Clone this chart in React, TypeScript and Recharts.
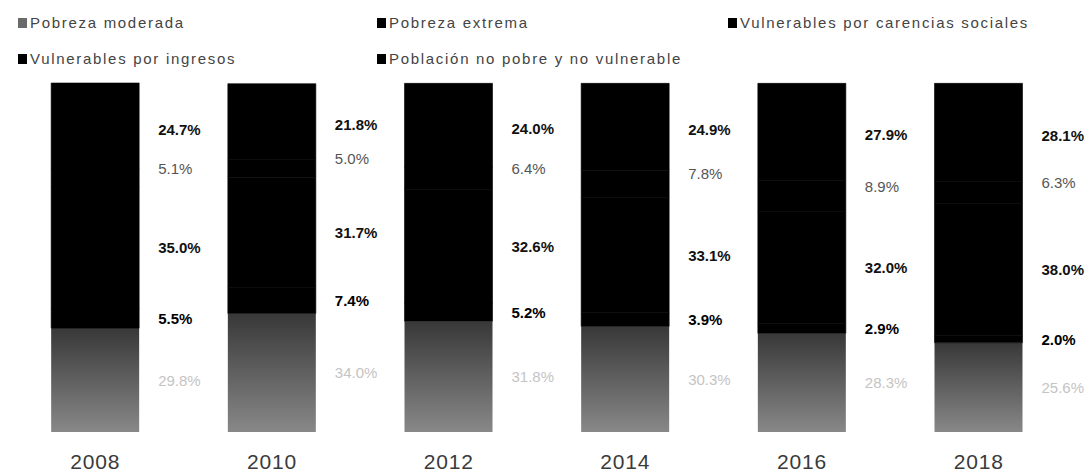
import React from "react";
import { BarChart, Bar, XAxis, YAxis, Legend, LabelList } from "recharts";

const years = ["2008", "2010", "2012", "2014", "2016", "2018"];
const pobrezaModerada = [29.8, 34.0, 31.8, 30.3, 28.3, 25.6];
const pobrezaExtrema = [5.5, 7.4, 5.2, 3.9, 2.9, 2.0];
const vulnerablesCarencias = [35.0, 31.7, 32.6, 33.1, 32.0, 38.0];
const vulnerablesIngresos = [5.1, 5.0, 6.4, 7.8, 8.9, 6.3];
const noPobre = [24.7, 21.8, 24.0, 24.9, 27.9, 28.1];

const data = years.map((y, i) => ({
  year: y,
  moderada: pobrezaModerada[i],
  extrema: pobrezaExtrema[i],
  carencias: vulnerablesCarencias[i],
  ingresos: vulnerablesIngresos[i],
  nopobre: noPobre[i],
}));

const FONT = "'Liberation Sans', Arial, sans-serif";

const legendItems = [
  { name: "Pobreza moderada", color: "#6a6a6a", x: 11, y: 0 },
  { name: "Pobreza extrema", color: "#000", x: 370, y: 0 },
  { name: "Vulnerables por carencias sociales", color: "#000", x: 721, y: 0 },
  { name: "Vulnerables por ingresos", color: "#000", x: 11, y: 36 },
  { name: "Población no pobre y no vulnerable", color: "#000", x: 370, y: 36 },
];

const renderLegend = () => (
  <div style={{ position: "relative", width: 1091, height: 70, fontFamily: FONT }}>
    {legendItems.map((it) => (
      <div
        key={it.name}
        style={{
          position: "absolute",
          left: it.x,
          top: it.y,
          display: "flex",
          alignItems: "center",
          fontSize: 15,
          letterSpacing: 1.7,
          color: "#444",
          whiteSpace: "nowrap",
          lineHeight: "20px",
        }}
      >
        <span style={{ display: "inline-block", width: 9, height: 10, background: it.color, marginRight: 3 }} />
        {it.name}
      </div>
    ))}
  </div>
);

const makeLabel = (color: string, weight: string | number, dy: number) => (props: any) => {
  const { x, y, width, height, value } = props;
  return (
    <text
      x={Number(x) + Number(width) + 19}
      y={Number(y) + Number(height) / 2 + dy}
      fill={color}
      fontSize={15}
      fontWeight={weight}
      fontFamily={FONT}
      dominantBaseline="central"
      textAnchor="start"
    >
      {Number(value).toFixed(1)}%
    </text>
  );
};

export default function App() {
  return (
    <div style={{ position: "absolute", left: 0, top: 0, width: 1091, height: 473, background: "#fff" }}>
      <BarChart
        width={1091}
        height={473}
        data={data}
        margin={{ top: 13, right: 24, bottom: 0, left: 7 }}
        barCategoryGap="25%"
      >
        <defs>
          <linearGradient id="grayTex" x1="0" y1="0" x2="0" y2="1">
            <stop offset="0%" stopColor="#383838" />
            <stop offset="100%" stopColor="#888888" />
          </linearGradient>
        </defs>
        <Legend verticalAlign="top" align="left" content={renderLegend} height={70} />
        <XAxis
          dataKey="year"
          axisLine={false}
          tickLine={false}
          height={41}
          tick={{ fontSize: 21, fill: "#3a3a3a", fontFamily: FONT, dy: 14, letterSpacing: 0.8 }}
        />
        <YAxis hide domain={[0, 100]} type="number" />
        <Bar dataKey="moderada" stackId="a" fill="url(#grayTex)" isAnimationActive={false}>
          <LabelList dataKey="moderada" content={makeLabel("#c4c4c4", "normal", 0)} />
        </Bar>
        <Bar dataKey="extrema" stackId="a" fill="#000" stroke="#000" strokeWidth={0.6} isAnimationActive={false}>
          <LabelList dataKey="extrema" content={makeLabel("#000", "bold", 0)} />
        </Bar>
        <Bar dataKey="carencias" stackId="a" fill="#000" stroke="#000" strokeWidth={0.6} isAnimationActive={false}>
          <LabelList dataKey="carencias" content={makeLabel("#111", "bold", 0)} />
        </Bar>
        <Bar dataKey="ingresos" stackId="a" fill="#000" stroke="#000" strokeWidth={0.6} isAnimationActive={false}>
          <LabelList dataKey="ingresos" content={makeLabel("#555", "normal", -10)} />
        </Bar>
        <Bar dataKey="nopobre" stackId="a" fill="#000" stroke="#000" strokeWidth={0.6} isAnimationActive={false}>
          <LabelList dataKey="nopobre" content={makeLabel("#111", "bold", 3)} />
        </Bar>
      </BarChart>
    </div>
  );
}
